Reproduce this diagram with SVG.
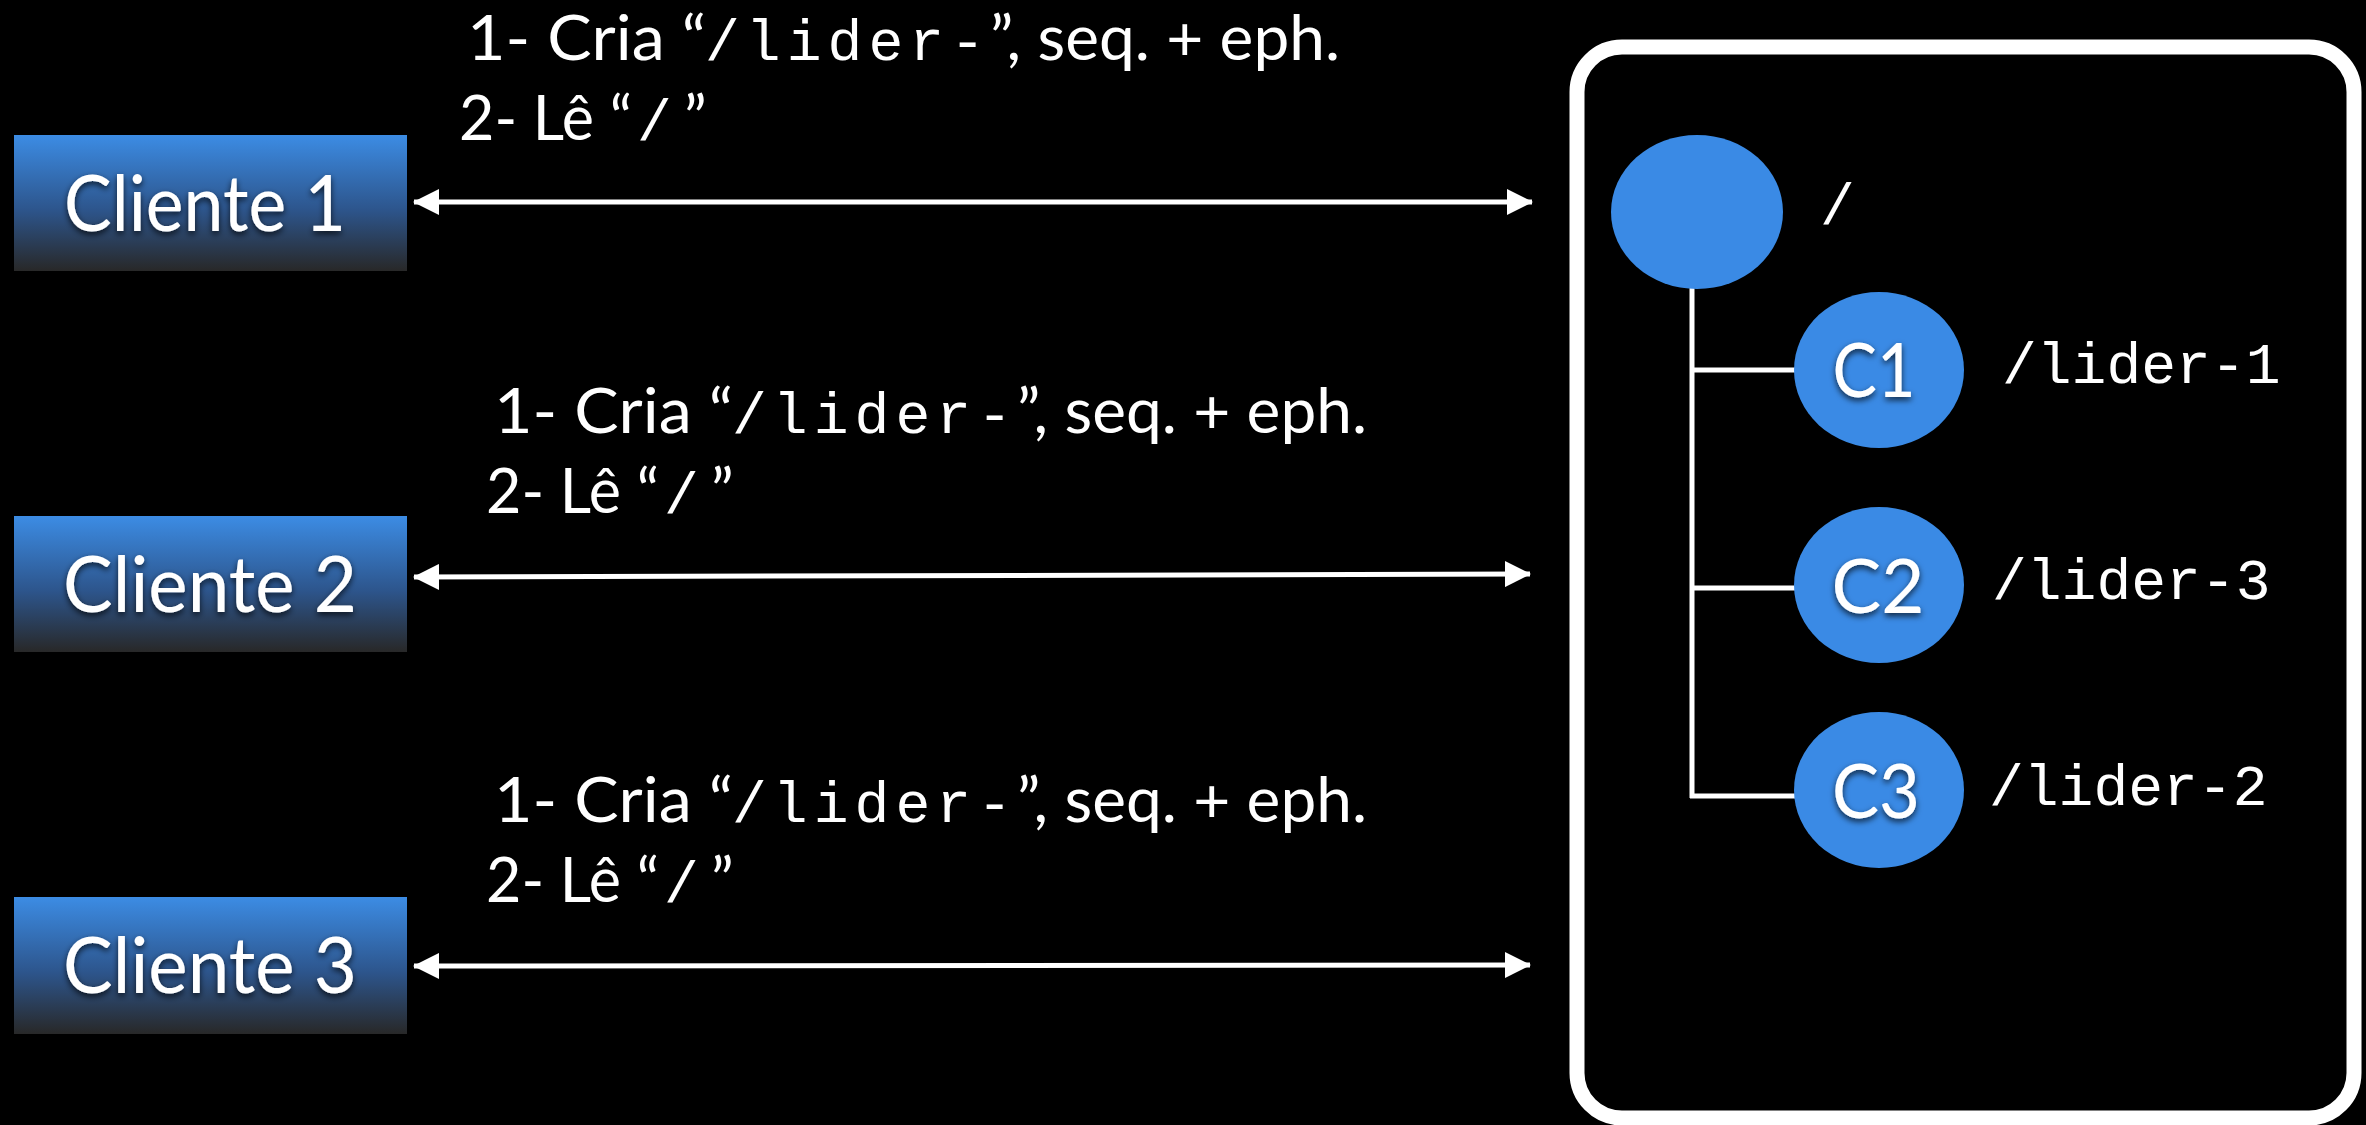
<svg xmlns="http://www.w3.org/2000/svg" width="2366" height="1125" viewBox="0 0 2366 1125">
  <defs>
    <linearGradient id="boxGrad" x1="0" y1="0" x2="0" y2="1">
      <stop offset="0" stop-color="#3c8ce4"/>
      <stop offset="0.55" stop-color="#2d558c"/>
      <stop offset="1" stop-color="#282828"/>
    </linearGradient>
    <filter id="shadow" x="-10%" y="-20%" width="120%" height="150%">
      <feDropShadow dx="0" dy="3" stdDeviation="3" flood-color="#000" flood-opacity="0.75"/>
    </filter>
    <marker id="arrow" markerUnits="userSpaceOnUse" markerWidth="26" markerHeight="26" viewBox="0 0 26 26" refX="25" refY="13" orient="auto-start-reverse">
      <path d="M0,0 L26,13 L0,26 z" fill="#fff"/>
    </marker>
  </defs>
  <style>
    .sans { font-family: Lato, "Liberation Sans", sans-serif; fill: #fff; }
    .mono { font-family: "Liberation Mono", "Courier New", monospace; fill: #fff; }
    .ann { font-size: 62px; }
    .annm { font-size: 58px; }
    .client { font-size: 78px; }
    .nodelbl { font-size: 76px; }
    .path { font-size: 58px; }
    .box { fill: url(#boxGrad); }
    .znode { fill: #3a8ae5; }
    .conn { stroke: #fff; stroke-width: 5; fill: none; }
    .tree { stroke: #fff; stroke-width: 5; fill: none; }
  </style>
  <rect x="0" y="0" width="2366" height="1125" fill="#000"/>

  <!-- ZooKeeper frame -->
  <g id="server">
    <rect x="1577" y="47" width="777" height="1071" rx="45" ry="45" fill="none" stroke="#fff" stroke-width="15"/>
  </g>

  <!-- Connectors -->
  <g id="connectors">
    <line class="conn" x1="414" y1="202" x2="1532" y2="202" marker-start="url(#arrow)" marker-end="url(#arrow)"/>
    <line class="conn" x1="414" y1="577" x2="1530" y2="574" marker-start="url(#arrow)" marker-end="url(#arrow)"/>
    <line class="conn" x1="414" y1="966" x2="1530" y2="965" marker-start="url(#arrow)" marker-end="url(#arrow)"/>
    <g id="tree-lines">
      <line class="tree" x1="1692" y1="285" x2="1692" y2="798"/>
      <line class="tree" x1="1690" y1="370" x2="1797" y2="370"/>
      <line class="tree" x1="1690" y1="588" x2="1797" y2="588"/>
      <line class="tree" x1="1690" y1="796" x2="1797" y2="796"/>
    </g>
  </g>

  <!-- Clients -->
  <g id="cliente1">
    <rect class="box" x="14" y="135" width="393" height="136"/>
    <text class="sans client" x="205" y="231" text-anchor="middle" textLength="282" lengthAdjust="spacingAndGlyphs" filter="url(#shadow)">Cliente 1</text>
  </g>
  <g id="cliente2">
    <rect class="box" x="14" y="516" width="393" height="136"/>
    <text class="sans client" x="210" y="612" text-anchor="middle" textLength="294" lengthAdjust="spacingAndGlyphs" filter="url(#shadow)">Cliente 2</text>
  </g>
  <g id="cliente3">
    <rect class="box" x="14" y="897" width="393" height="137"/>
    <text class="sans client" x="210" y="993" text-anchor="middle" textLength="294" lengthAdjust="spacingAndGlyphs" filter="url(#shadow)">Cliente 3</text>
  </g>

  <!-- Annotations -->
  <g id="label1">
    <text class="sans ann" x="467" y="60" textLength="239" lengthAdjust="spacingAndGlyphs">1- Cria “</text>
    <text class="mono annm" x="705" y="60" textLength="280">/lider-</text>
    <text class="sans ann" x="990" y="60" textLength="350" lengthAdjust="spacingAndGlyphs">”, seq. + eph.</text>
    <text class="sans ann" x="459" y="140" textLength="173" lengthAdjust="spacingAndGlyphs">2- Lê “</text>
    <text class="mono annm" x="637" y="140">/</text>
    <text class="sans ann" x="684" y="140">”</text>
  </g>
  <g id="label2" transform="translate(27,373)">
    <text class="sans ann" x="467" y="60" textLength="239" lengthAdjust="spacingAndGlyphs">1- Cria “</text>
    <text class="mono annm" x="705" y="60" textLength="280">/lider-</text>
    <text class="sans ann" x="990" y="60" textLength="350" lengthAdjust="spacingAndGlyphs">”, seq. + eph.</text>
    <text class="sans ann" x="459" y="140" textLength="173" lengthAdjust="spacingAndGlyphs">2- Lê “</text>
    <text class="mono annm" x="637" y="140">/</text>
    <text class="sans ann" x="684" y="140">”</text>
  </g>
  <g id="label3" transform="translate(27,762)">
    <text class="sans ann" x="467" y="60" textLength="239" lengthAdjust="spacingAndGlyphs">1- Cria “</text>
    <text class="mono annm" x="705" y="60" textLength="280">/lider-</text>
    <text class="sans ann" x="990" y="60" textLength="350" lengthAdjust="spacingAndGlyphs">”, seq. + eph.</text>
    <text class="sans ann" x="459" y="140" textLength="173" lengthAdjust="spacingAndGlyphs">2- Lê “</text>
    <text class="mono annm" x="637" y="140">/</text>
    <text class="sans ann" x="684" y="140">”</text>
  </g>

  <!-- znodes -->
  <g id="root">
    <ellipse class="znode" cx="1697" cy="212" rx="86" ry="77"/>
    <text class="mono path" x="1820" y="224">/</text>
  </g>
  <g id="c1">
    <ellipse class="znode" cx="1879" cy="370" rx="85" ry="78"/>
    <text class="sans nodelbl" x="1874" y="397" text-anchor="middle" textLength="83" lengthAdjust="spacingAndGlyphs" filter="url(#shadow)">C1</text>
    <text class="mono path" x="2002" y="383">/lider-1</text>
  </g>
  <g id="c2">
    <ellipse class="znode" cx="1879" cy="585" rx="85" ry="78"/>
    <text class="sans nodelbl" x="1878" y="613" text-anchor="middle" textLength="93" lengthAdjust="spacingAndGlyphs" filter="url(#shadow)">C2</text>
    <text class="mono path" x="1992" y="599">/lider-3</text>
  </g>
  <g id="c3">
    <ellipse class="znode" cx="1879" cy="790" rx="85" ry="78"/>
    <text class="sans nodelbl" x="1876" y="818" text-anchor="middle" textLength="88" lengthAdjust="spacingAndGlyphs" filter="url(#shadow)">C3</text>
    <text class="mono path" x="1989" y="805">/lider-2</text>
  </g>
</svg>
